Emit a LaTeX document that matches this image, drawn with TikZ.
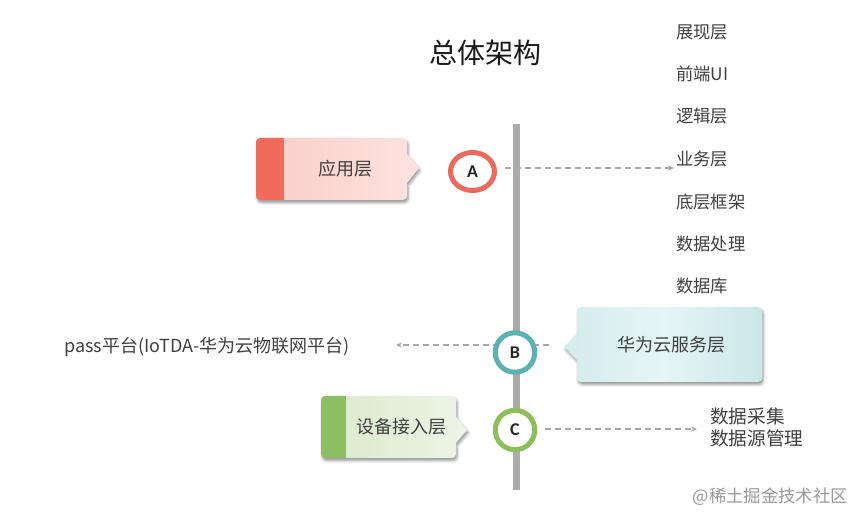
\documentclass[tikz,border=0pt]{standalone}
\usepackage{fontspec}
\setmainfont{Noto Sans CJK SC}
\newfontfamily\letterfont{Carlito}
\usetikzlibrary{arrows.meta,shadows.blur,shapes.geometric}
\definecolor{barc}{HTML}{ABABAB}
\definecolor{txt}{HTML}{404040}
\definecolor{ringA}{HTML}{EB6A5E}
\definecolor{ringB}{HTML}{5AB2B2}
\definecolor{ringC}{HTML}{8CBF5C}
\definecolor{stripA}{HTML}{F26A5A}
\definecolor{stripC}{HTML}{8CBF60}
\definecolor{fillAl}{HTML}{FBCCC7}
\definecolor{fillAr}{HTML}{FDE3E0}
\definecolor{fillCl}{HTML}{D9EACB}
\definecolor{fillCr}{HTML}{EEF4E7}
\definecolor{fillBl}{HTML}{D3ECEC}
\definecolor{fillBm}{HTML}{E6F5F5}
\definecolor{fillBr}{HTML}{C9E7E8}
\definecolor{dashc}{HTML}{A8A8A8}
\tikzset{
  listtext/.style={anchor=west, text=txt, font=\fontsize{13}{15}\selectfont, inner sep=0pt},
  boxtext/.style={text=txt, font=\fontsize{13.5}{16}\selectfont, inner sep=0pt},
  ringnode/.style={fill=white, line width=3.75pt, inner sep=0pt, font=\letterfont\bfseries\fontsize{13.5}{15}\selectfont, text=black!85},
  dasharrow/.style={draw=dashc, line width=0.9pt, dash pattern=on 4.5pt off 3pt, -{Stealth[length=4.5pt,width=4pt]}},
  boxshadow/.style={blur shadow={shadow xshift=1pt, shadow yshift=-2pt, shadow blur radius=2pt, shadow opacity=40}}
}
\begin{document}
\begin{tikzpicture}[x=0.75pt,y=-0.75pt]
\useasboundingbox (0,0) rectangle (865,527);

% title
\node[font=\fontsize{21}{24}\selectfont, text=black!90] (title) at (485,53) {总体架构};

% right list
\node[listtext] (l1) at (676,32) {展现层};
\node[listtext] (l2) at (676,74) {前端UI};
\node[listtext] (l3) at (676,116) {逻辑层};
\node[listtext] (l4) at (676,159) {业务层};
\node[listtext] (l5) at (676,202) {底层框架};
\node[listtext] (l6) at (676,244) {数据处理};
\node[listtext] (l7) at (676,286) {数据库};

% vertical bar
\fill[barc] (513,124) rectangle (520,490);

% dashed connectors
\coordinate (a0) at (505,168);
\coordinate (a1) at (674,168);
\coordinate (b0) at (549,345);
\coordinate (b1) at (396,345);
\coordinate (c0) at (545,429);
\coordinate (c1) at (697,429);
\draw[dasharrow] (a0) -- (a1);
\draw[dasharrow] (b0) -- (b1);
\draw[dasharrow] (c0) -- (c1);

% circles
\node[ringnode, draw=ringA, ellipse, minimum width=33pt, minimum height=28.5pt] (A) at (472.5,171.5) {A};
\node[ringnode, draw=ringB, circle, minimum size=29.6pt] (B) at (515,352.5) {B};
\node[ringnode, draw=ringC, circle, minimum size=29.6pt] (C) at (515,430) {C};

% box A
\path[boxshadow, left color=fillAl, right color=fillAr]
  [rounded corners=3pt] (256,138) -- (407,138) [sharp corners] -- (407,154) -- (419,168) -- (407,183) [rounded corners=3pt] -- (407,200) -- (256,200) -- cycle;
\begin{scope}
  \clip [rounded corners=3pt] (256,138) -- (407,138) -- (407,200) -- (256,200) -- cycle;
  \fill[stripA] (250,130) rectangle (284,210);
\end{scope}
\node[boxtext] (boxA) at (345,169) {应用层};

% box B
\path[boxshadow, left color=fillBl, right color=fillBr, middle color=fillBm]
  [rounded corners=3pt] (577,307) -- (762,307) -- (762,382) -- (577,382) [sharp corners] -- (577,360) -- (564,347) -- (577,333) [rounded corners=3pt] -- cycle;
\node[boxtext] (boxB) at (671,345) {华为云服务层};

% box C
\path[boxshadow, left color=fillCl, right color=fillCr]
  [rounded corners=3pt] (321,396) -- (456,396) [sharp corners] -- (456,417) -- (467,430) -- (456,443) [rounded corners=3pt] -- (456,458) -- (321,458) -- cycle;
\begin{scope}
  \clip [rounded corners=3pt] (321,396) -- (456,396) -- (456,458) -- (321,458) -- cycle;
  \fill[stripC] (315,390) rectangle (346,465);
\end{scope}
\node[boxtext] (boxC) at (401,427) {设备接入层};

% left text
\node[anchor=west, text=txt, font=\fontsize{13.5}{16}\selectfont, inner sep=0pt] (pass) at (64,347) {pass平台(IoTDA-华为云物联网平台)};

% bottom right text
\node[anchor=north west, text=txt, font=\fontsize{14}{16.5}\selectfont, inner sep=0pt, align=left] (data) at (710,407) {数据采集\\数据源管理};

% watermark
\node[anchor=east, text=black!40, font=\fontsize{13}{15}\selectfont, inner sep=0pt] (wm) at (848,497) {@稀土掘金技术社区};
\end{tikzpicture}
\end{document}
